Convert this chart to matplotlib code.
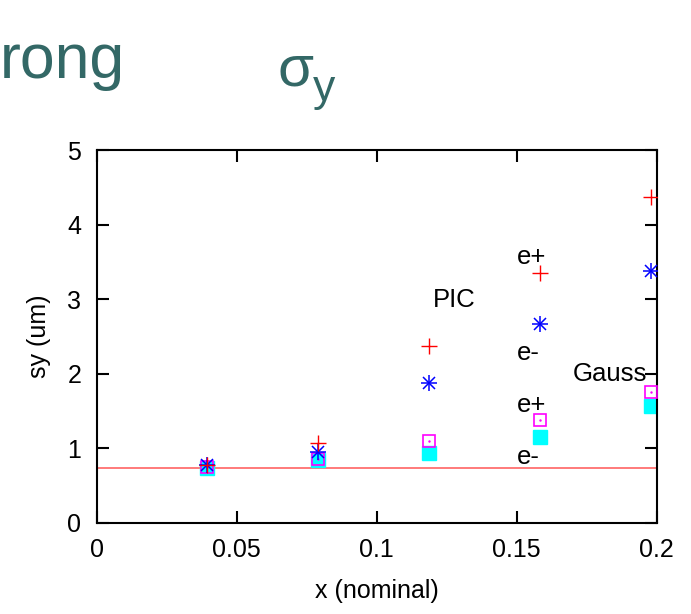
import numpy as np
import matplotlib
matplotlib.use('Agg')
import matplotlib.pyplot as plt

plt.rcParams['font.family'] = ['Liberation Sans', 'DejaVu Sans']

# beam size sigma_y vs nominal x, PIC and Gauss models for e+ / e-
x_nom = [0.0396, 0.0792, 0.1188, 0.1584, 0.198]
pic_eplus = [0.78, 1.065, 2.37, 3.35, 4.37]
pic_eminus = [0.77, 0.95, 1.88, 2.67, 3.38]
gauss_eplus = [0.75, 0.86, 1.09, 1.38, 1.76]
gauss_eminus = [0.74, 0.84, 0.93, 1.15, 1.56]
sy_nominal = 0.73

xticks = [0, 0.05, 0.1, 0.15, 0.2]
xticklabels = ['0', '0.05', '0.1', '0.15', '0.2']
yticks = [0, 1, 2, 3, 4, 5]

# text labels placed in data coords
notes = [('PIC', 0.1201, 2.99), ('e+', 0.150, 3.57), ('e-', 0.150, 2.28),
         ('Gauss', 0.170, 1.995), ('e+', 0.150, 1.58), ('e-', 0.150, 0.885)]

teal = '#336866'

fig = plt.figure(figsize=(6.91, 6.14), dpi=100)
ax = fig.add_axes([0.1397, 0.1487, 0.8108, 0.6067])

ax.axhline(sy_nominal, color='#ff7070', lw=1.3, zorder=1)

ax.plot(x_nom, gauss_eminus, ls='none', marker='s', ms=9.5, mfc='#00ffff',
        mec='#00ffff', zorder=2)
ax.plot(x_nom, gauss_eplus, ls='none', marker='s', ms=9, mfc='none',
        mec='#ff00ff', mew=1.2, zorder=3)
ax.plot(x_nom, gauss_eplus, ls='none', marker='.', ms=1.5, color='#ff00ff',
        zorder=3)
ax.plot(x_nom, pic_eminus, ls='none', marker='+', ms=11, mec='#0000ff',
        mew=1.1, zorder=4)
ax.plot(x_nom, pic_eminus, ls='none', marker='x', ms=8, mec='#0000ff',
        mew=1.1, zorder=4)
ax.plot(x_nom, pic_eplus, ls='none', marker='+', ms=11, mec='#ff0000',
        mew=1.0, zorder=5)

for s, xx, yy in notes:
    ax.text(xx, yy, s, fontsize=18.5, va='center', ha='left', zorder=6)

ax.set_xlim(0, 0.2)
ax.set_ylim(0, 5)
ax.set_xticks(xticks)
ax.set_xticklabels(xticklabels)
ax.set_yticks(yticks)
ax.tick_params(direction='in', length=8.5, width=1.5, labelsize=18,
               top=True, right=True)
ax.tick_params(axis='x', pad=11)
ax.tick_params(axis='y', pad=11)
for sp in ax.spines.values():
    sp.set_linewidth(1.5)

ax.set_xlabel('x (nominal)', fontsize=18, labelpad=12)
ax.set_ylabel('sy (um)', fontsize=18, labelpad=12)

# slide title fragments above the plot
fig.text(0.0, 1 - 78 / 614, 'rong', fontsize=45, color=teal,
         ha='left', va='baseline')
fig.text(278 / 691, 1 - 85 / 614, 'σ', fontsize=42, color=teal,
         ha='left', va='baseline')
fig.text(313 / 691, 1 - 101 / 614, 'y', fontsize=32, color=teal,
         ha='left', va='baseline')

fig.savefig('out.png', dpi=100)
